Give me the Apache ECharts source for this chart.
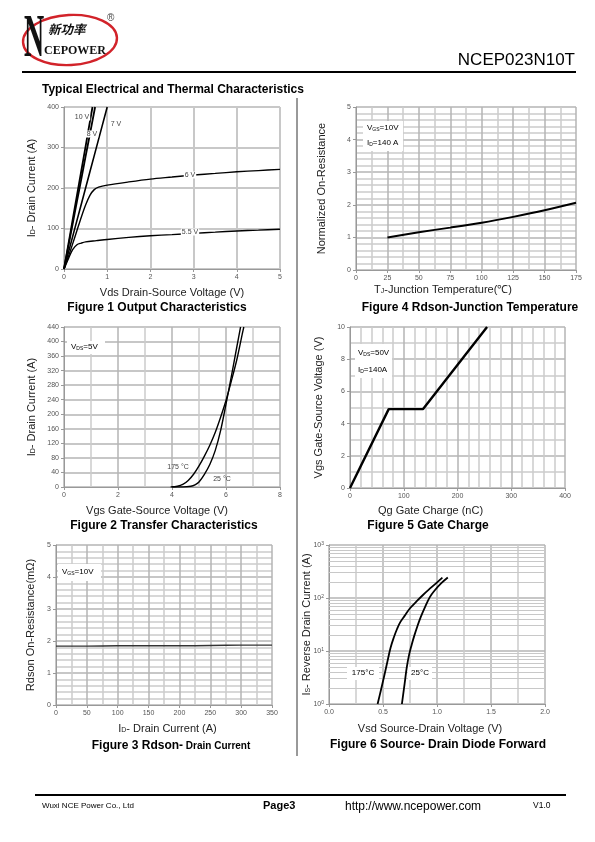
<!DOCTYPE html>
<html><head><meta charset="utf-8">
<script src="https://cdn.jsdelivr.net/npm/echarts@6/dist/echarts.min.js"></script>
<style>html,body{margin:0;padding:0;background:#fff}#c{width:595px;height:842px}</style>
</head><body><div id="c"></div>
<script>
// ---------- Figure 1: Output characteristics ----------
const fig1Vds10 = [0, 0.1, 0.2, 0.3, 0.4, 0.5, 0.6, 0.66];
const fig1Id10  = [0, 60, 121, 182, 242, 303, 364, 400];
const fig1Vds8  = [0, 0.1, 0.2, 0.3, 0.4, 0.5, 0.6, 0.72];
const fig1Id8   = [0, 56, 111, 167, 222, 278, 333, 400];
const fig1Vds7  = [0, 0.2, 0.4, 0.6, 0.8, 1.0];
const fig1Id7   = [0, 80, 160, 240, 320, 400];
const fig1Vds6  = [0, 0.1, 0.2, 0.3, 0.4, 0.5, 0.6, 0.7, 0.8, 1.0, 1.5, 2, 2.5, 3, 3.5, 4, 4.5, 5];
const fig1Id6   = [0, 30, 62, 95, 128, 158, 182, 196, 202, 207, 215, 222, 227, 232, 236, 240, 243, 246];
const fig1Vds55 = [0, 0.1, 0.2, 0.3, 0.4, 0.5, 0.75, 1, 1.5, 2, 2.5, 3, 3.5, 4, 4.5, 5];
const fig1Id55  = [0, 25, 48, 60, 64, 67, 70, 73, 78, 82, 85, 88, 91, 94, 96, 98];

// ---------- Figure 2: Transfer characteristics ----------
const fig2Vgs25  = [4.0, 4.4, 4.7, 4.85, 5.0, 5.2, 5.4, 5.6, 5.8, 6.0, 6.2, 6.4, 6.54];
const fig2Id25   = [0, 0, 2, 6, 14, 35, 62, 100, 155, 228, 305, 385, 440];
const fig2Vgs175 = [3.95, 4.2, 4.4, 4.6, 4.8, 5.0, 5.2, 5.4, 5.6, 5.8, 6.0, 6.2, 6.4, 6.6, 6.66];
const fig2Id175  = [0, 2, 7, 18, 35, 58, 85, 115, 150, 192, 238, 292, 350, 420, 440];

// ---------- Figure 3: Rdson vs drain current ----------
const fig3Id    = [0, 50, 100, 150, 200, 250, 300, 350];
const fig3Rdson = [1.84, 1.84, 1.85, 1.85, 1.85, 1.86, 1.87, 1.87];

// ---------- Figure 4: Rdson vs junction temperature ----------
const fig4Tj    = [25, 50, 75, 100, 125, 150, 175];
const fig4Rnorm = [1.0, 1.16, 1.3, 1.45, 1.63, 1.83, 2.06];

// ---------- Figure 5: Gate charge ----------
const fig5Qg  = [0, 72, 136, 255];
const fig5Vgs = [0, 4.9, 4.9, 10];

// ---------- Figure 6: Source-drain diode forward ----------
const fig6Vsd175 = [0.45, 0.48, 0.51, 0.54, 0.57, 0.60, 0.63, 0.66, 0.70, 0.75, 0.80, 0.87, 0.95, 1.05];
const fig6Is175  = [1, 1.8, 3.3, 6.2, 11.5, 18, 26, 35, 46, 64, 82, 114, 160, 243];
const fig6Vsd25  = [0.675, 0.70, 0.72, 0.74, 0.765, 0.79, 0.82, 0.85, 0.89, 0.935, 0.98, 1.04, 1.10];
const fig6Is25   = [1, 2.4, 4.9, 8.2, 13, 19.5, 30, 44, 68, 105, 140, 190, 243];

const zip = (xs, ys) => xs.map((x, i) => [x, ys[i]]);
const FONT = '"Liberation Sans", Arial, sans-serif';
const fig6Minor = [];
[1, 10, 100].forEach(d => { for (let k = 2; k <= 9; k++) fig6Minor.push(k * d); });

const chart = echarts.init(document.getElementById('c'), null, {renderer: 'canvas'});

const sub = {fontSize: 7, fontFamily: FONT, color: '#222', verticalAlign: 'bottom', lineHeight: 9};
const nameStyle = (extra) => Object.assign({fontSize: 11, fontFamily: FONT, color: '#222', rich: {s: sub}}, extra || {});
const labelStyle = {fontSize: 7, fontFamily: FONT, color: '#555', margin: 5};

function axis(gi, kind, o) {
  const a = {
    type: 'value', gridIndex: gi, min: o.min, max: o.max, interval: o.interval,
    axisLine: {show: true, onZero: false, lineStyle: {color: '#999', width: 1}},
    axisTick: {show: true, length: 3, lineStyle: {color: '#999'}},
    axisLabel: Object.assign({}, labelStyle, o.label || {}),
    splitLine: {show: true, lineStyle: {color: o.majorColor || '#b4b4b4', width: o.majorWidth || 1.5}},
    name: o.name, nameLocation: 'middle', nameGap: o.gap, nameMoveOverlap: false,
    nameTextStyle: nameStyle(o.nameExtra)
  };
  if (kind === 'y') { a.nameRotate = 90; }
  if (o.minor) {
    a.minorTick = {show: false, splitNumber: o.minor};
    a.minorSplitLine = {show: true, lineStyle: {color: '#cbcbcb', width: 1.5}};
  }
  return a;
}

const line = (xi, data, w, color, smooth) => ({
  type: 'line', xAxisIndex: xi, yAxisIndex: xi, data: data, showSymbol: false, symbol: 'none',
  lineStyle: {color: color || '#000', width: w}, z: 5, smooth: smooth === undefined ? 0.3 : smooth
});

const T = (x, y, text, opt) => ({
  type: 'text', x: x, y: y, z: 50,
  style: Object.assign({text: text, fontFamily: FONT, fontSize: 11, fill: '#000', textAlign: 'left', textVerticalAlign: 'middle'}, opt || {})
});
const richSub = {n: {fontSize: 8, fontFamily: FONT, fill: '#000'}, s: {fontSize: 5, fontFamily: FONT, fill: '#000', verticalAlign: 'bottom', lineHeight: 6}};

const option = {
  animation: false,
  backgroundColor: '#fff',
  grid: [
    {left: 64, top: 107, width: 216, height: 162},
    {left: 356, top: 107, width: 220, height: 163},
    {left: 64, top: 327, width: 216, height: 160},
    {left: 350, top: 327, width: 215, height: 161},
    {left: 56, top: 545, width: 216, height: 160},
    {left: 329, top: 545, width: 216, height: 159}
  ],
  xAxis: [
    axis(0, 'x', {min: 0, max: 5, interval: 1, name: 'Vds Drain-Source Voltage (V)', gap: 18, majorColor: '#c8c8c8', majorWidth: 2}),
    axis(1, 'x', {min: 0, max: 175, interval: 25, minor: 2, name: 'T{s|J}-Junction Temperature(℃)', gap: 14, nameExtra: {padding: [0, 46, 0, 0]}}),
    axis(2, 'x', {min: 0, max: 8, interval: 2, minor: 2, name: 'Vgs Gate-Source Voltage (V)', gap: 18, nameExtra: {padding: [0, 30, 0, 0]}}),
    axis(3, 'x', {min: 0, max: 400, interval: 100, minor: 5, name: 'Qg Gate Charge (nC)', gap: 17, nameExtra: {padding: [0, 54, 0, 0]}}),
    axis(4, 'x', {min: 0, max: 350, interval: 50, minor: 2, name: 'I{s|D}- Drain Current (A)', gap: 18, nameExtra: {padding: [0, 0, 0, 7]}}),
    axis(5, 'x', {min: 0, max: 2, interval: 0.5, minor: 2, name: 'Vsd Source-Drain Voltage (V)', gap: 19, nameExtra: {padding: [0, 14, 0, 0]}, label: {formatter: v => v.toFixed(1)}})
  ],
  yAxis: [
    axis(0, 'y', {min: 0, max: 400, interval: 100, name: 'I{s|D}- Drain Current (A)', gap: 27, majorColor: '#c8c8c8', majorWidth: 2}),
    axis(1, 'y', {min: 0, max: 5, interval: 1, minor: 5, name: 'Normalized On-Resistance', gap: 29}),
    axis(2, 'y', {min: 0, max: 440, interval: 40, name: 'I{s|D}- Drain Current (A)', gap: 27}),
    axis(3, 'y', {min: 0, max: 10, interval: 2, minor: 2, name: 'Vgs Gate-Source Voltage (V)', gap: 26}),
    axis(4, 'y', {min: 0, max: 5, interval: 1, minor: 5, name: 'Rdson On-Resistance(mΩ)', gap: 20}),
    Object.assign(axis(5, 'y', {min: 1, max: 1000, name: 'I{s|S}- Reverse Drain Current (A)', gap: 17,
      label: {formatter: v => '10{p|' + Math.round(Math.log10(v)) + '}', rich: {p: {fontSize: 5, fontFamily: FONT, color: '#555', verticalAlign: 'top', lineHeight: 6}}}}),
      {type: 'log', logBase: 10, interval: undefined})
  ],
  series: [
    line(0, zip(fig1Vds10, fig1Id10), 1.8),
    line(0, zip(fig1Vds8, fig1Id8), 1.8),
    line(0, zip(fig1Vds7, fig1Id7), 1.6),
    line(0, zip(fig1Vds6, fig1Id6), 1.4),
    line(0, zip(fig1Vds55, fig1Id55), 1.4),
    line(1, zip(fig4Tj, fig4Rnorm), 2),
    line(2, zip(fig2Vgs25, fig2Id25), 1.4),
    line(2, zip(fig2Vgs175, fig2Id175), 1.4),
    line(3, zip(fig5Qg, fig5Vgs), 2.4, '#000', false),
    line(4, zip(fig3Id, fig3Rdson), 1.4, '#333'),
    line(5, zip(fig6Vsd175, fig6Is175), 1.8, '#000', 0.4),
    line(5, zip(fig6Vsd25, fig6Is25), 1.8, '#000', 0.4),
    {type: 'line', xAxisIndex: 5, yAxisIndex: 5, data: [], z: 1, silent: true,
     markLine: {silent: true, symbol: ['none', 'none'], label: {show: false},
       lineStyle: {color: '#c8c8c8', width: 1, type: 'solid'},
       data: fig6Minor.map(v => ({yAxis: v}))}}
  ],
  graphic: [
    // logo
    {type: 'ellipse', shape: {cx: 70, cy: 40, rx: 47, ry: 25}, rotation: 0.05, originX: 70, originY: 40, style: {fill: 'none', stroke: '#d2232a', lineWidth: 2.4}, z: 40},
    {type: 'text', x: 24, y: 40, scaleX: 0.45, z: 42, style: {text: 'N', fontFamily: '"Liberation Serif", serif', fontWeight: 'bold', fontSize: 62, fill: '#111', textVerticalAlign: 'middle'}},
    T(48, 29, '新功率', {fontFamily: '"Noto Sans CJK SC", sans-serif', fontWeight: 'bold', fontStyle: 'italic', fontSize: 12.5, fill: '#111'}),
    T(44, 51, 'CEPOWER', {fontFamily: '"Liberation Serif", serif', fontWeight: 'bold', fontSize: 12, fill: '#111'}),
    T(107, 18, '®', {fontSize: 10, fill: '#444'}),
    // header
    T(575, 60, 'NCEP023N10T', {textAlign: 'right', fontSize: 17}),
    {type: 'line', shape: {x1: 22, y1: 72, x2: 576, y2: 72}, style: {stroke: '#000', lineWidth: 2}, z: 40},
    T(42, 90, 'Typical Electrical and Thermal Characteristics', {fontWeight: 'bold', fontSize: 12}),
    {type: 'line', shape: {x1: 297, y1: 98, x2: 297, y2: 756}, style: {stroke: '#000', lineWidth: 0.8}, z: 40},
    // captions
    T(157, 308, 'Figure 1 Output Characteristics', {textAlign: 'center', fontWeight: 'bold', fontSize: 12}),
    T(470, 308, 'Figure 4 Rdson-Junction Temperature', {textAlign: 'center', fontWeight: 'bold', fontSize: 12}),
    T(164, 526, 'Figure 2 Transfer Characteristics', {textAlign: 'center', fontWeight: 'bold', fontSize: 12}),
    T(428, 526, 'Figure 5 Gate Charge', {textAlign: 'center', fontWeight: 'bold', fontSize: 12}),
    {type: 'text', x: 171, y: 746, z: 50, style: {text: '{a|Figure 3 Rdson-}{b| Drain Current}', textAlign: 'center', textVerticalAlign: 'middle',
      rich: {a: {fontFamily: FONT, fontWeight: 'bold', fontSize: 12, fill: '#000'}, b: {fontFamily: FONT, fontWeight: 'bold', fontSize: 10, fill: '#000'}}}},
    T(438, 745, 'Figure 6 Source- Drain Diode Forward', {textAlign: 'center', fontWeight: 'bold', fontSize: 12}),
    // fig1 curve labels
    T(82, 117, '10 V', {textAlign: 'center', fontSize: 7, fill: '#444', backgroundColor: '#fff', padding: [0, 1]}),
    T(92, 134, '8 V', {textAlign: 'center', fontSize: 7, fill: '#444', backgroundColor: '#fff', padding: [0, 1]}),
    T(116, 124, '7 V', {textAlign: 'center', fontSize: 7, fill: '#444', backgroundColor: '#fff', padding: [0, 1]}),
    T(190, 175, '6 V', {textAlign: 'center', fontSize: 7, fill: '#444', backgroundColor: '#fff', padding: [0, 1]}),
    T(190, 232, '5.5 V', {textAlign: 'center', fontSize: 7, fill: '#444', backgroundColor: '#fff', padding: [0, 1]}),
    // fig4 box
    {type: 'rect', shape: {x: 363, y: 121, width: 40, height: 30}, style: {fill: '#fff'}, z: 45},
    {type: 'text', x: 367, y: 128, z: 50, style: {text: '{n|V}{s|GS}{n|=10V}', textVerticalAlign: 'middle', rich: richSub}},
    {type: 'text', x: 367, y: 143, z: 50, style: {text: '{n|I}{s|D}{n|=140 A}', textVerticalAlign: 'middle', rich: richSub}},
    // fig2 labels
    {type: 'rect', shape: {x: 67, y: 341, width: 38, height: 13}, style: {fill: '#fff'}, z: 45},
    {type: 'text', x: 71, y: 347, z: 50, style: {text: '{n|V}{s|DS}{n|=5V}', textVerticalAlign: 'middle', rich: richSub}},
    T(178, 467, '175 °C', {textAlign: 'center', fontSize: 7, fill: '#444'}),
    T(222, 479, '25 °C', {textAlign: 'center', fontSize: 7, fill: '#444'}),
    // fig5 box
    {type: 'rect', shape: {x: 355, y: 344, width: 37, height: 34}, style: {fill: '#fff'}, z: 45},
    {type: 'text', x: 358, y: 353, z: 50, style: {text: '{n|V}{s|DS}{n|=50V}', textVerticalAlign: 'middle', rich: richSub}},
    {type: 'text', x: 358, y: 370, z: 50, style: {text: '{n|I}{s|D}{n|=140A}', textVerticalAlign: 'middle', rich: richSub}},
    // fig3 box
    {type: 'rect', shape: {x: 58, y: 564, width: 43, height: 17}, style: {fill: '#fff'}, z: 45},
    {type: 'text', x: 62, y: 572, z: 50, style: {text: '{n|V}{s|GS}{n|=10V}', textVerticalAlign: 'middle', rich: richSub}},
    // fig6 labels
    {type: 'rect', shape: {x: 347, y: 667, width: 32, height: 13}, style: {fill: '#fff'}, z: 45},
    T(363, 673, '175°C', {textAlign: 'center', fontSize: 8}),
    {type: 'rect', shape: {x: 408, y: 667, width: 24, height: 13}, style: {fill: '#fff'}, z: 45},
    T(420, 673, '25°C', {textAlign: 'center', fontSize: 8}),
    // footer
    {type: 'line', shape: {x1: 35, y1: 795, x2: 566, y2: 795}, style: {stroke: '#000', lineWidth: 2}, z: 40},
    T(42, 806, 'Wuxi NCE Power Co., Ltd', {fontSize: 8}),
    T(263, 806, 'Page3', {fontSize: 11, fontWeight: 'bold'}),
    T(345, 807, 'http://www.ncepower.com', {fontSize: 12}),
    T(533, 806, 'V1.0', {fontSize: 8.5})
  ]
};
chart.setOption(option);
</script>
</body></html>
